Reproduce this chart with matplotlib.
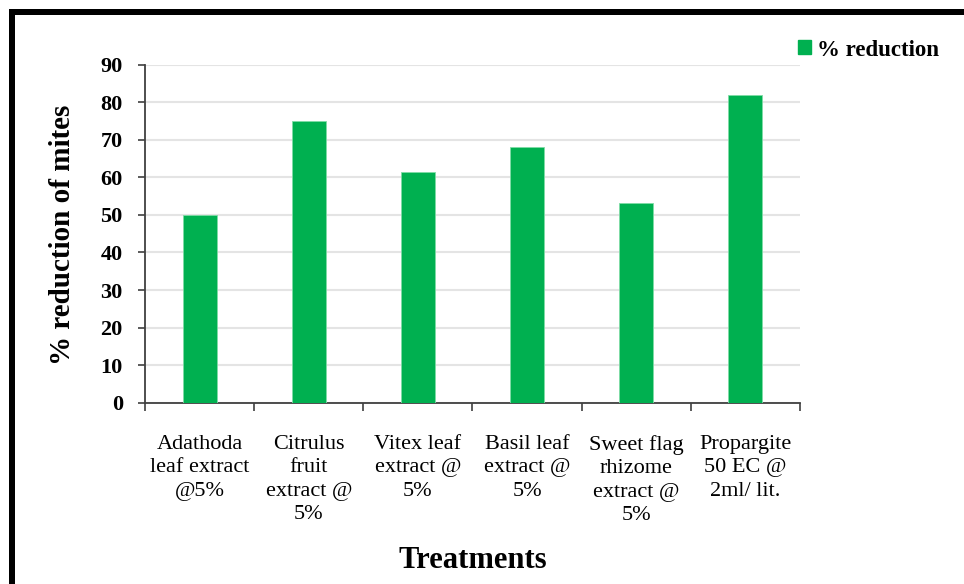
import matplotlib
matplotlib.use("Agg")
import matplotlib.pyplot as plt
from matplotlib.lines import Line2D
from matplotlib.patches import Patch
import numpy as np

treatments = [
    "Adathoda\nleaf extract\n@5%",
    "Citrulus\nfruit\nextract @\n5%",
    "Vitex leaf\nextract @\n5%",
    "Basil leaf\nextract @\n5%",
    "Sweet flag\nrhizome\nextract @\n5%",
    "Propargite\n50 EC @\n2ml/ lit.",
]
reduction = [50.0, 74.9, 61.5, 68.0, 53.2, 81.9]
yticks = [0, 10, 20, 30, 40, 50, 60, 70, 80, 90]

serif = ["Liberation Serif", "DejaVu Serif"]
green = "#00B050"

W, H = 964, 584
fig = plt.figure(figsize=(W / 100, H / 100), dpi=100)
fig.patch.set_facecolor("white")

ax = fig.add_axes([145 / W, 1 - 402.7 / H, (800 - 145) / W, (402.7 - 64.7) / H])
x = np.arange(len(treatments))
ax.bar(x, reduction, width=0.31, color=green, edgecolor="#7fdca6", linewidth=0.6,
       zorder=3, label="% reduction")

ax.set_ylim(0, 90)
ax.set_xlim(-0.5, len(treatments) - 0.5)
ax.set_yticks(yticks)
ax.set_yticklabels([str(v) for v in yticks], fontfamily=serif, fontweight="bold",
                   fontsize=16)
ax.yaxis.grid(True, color="#e4e4e4", linewidth=1.5, zorder=0)
ax.set_axisbelow(True)

ax.set_xticks(x)
ax.set_xticklabels(treatments, fontfamily=serif, fontsize=16, linespacing=1.32,
                   va="top")
ax.set_xticks(np.arange(-0.5, len(treatments)), minor=True)
ax.tick_params(axis="x", which="major", length=0, pad=23)
ax.tick_params(axis="x", which="minor", length=6, width=1.2, color="#404040",
               direction="out")
ax.tick_params(axis="y", length=5, width=1.2, color="#404040", pad=11)

for s in ("top", "right"):
    ax.spines[s].set_visible(False)
for s in ("left", "bottom"):
    ax.spines[s].set_color("#404040")
    ax.spines[s].set_linewidth(1.3)

# Axis titles placed in figure pixels
fig.text(63 / W, 1 - 235 / H, "% reduction of mites", rotation=90, ha="center",
         va="center", fontfamily=serif, fontweight="bold", fontsize=21)
fig.text(472.5 / W, 1 - 561 / H, "Treatments", ha="center", va="center",
         fontfamily=serif, fontweight="bold", fontsize=22)

fig.legend(handles=[Patch(facecolor=green, edgecolor=green)],
           labels=["% reduction"], loc="center left",
           bbox_to_anchor=(798 / W, 1 - 50 / H), frameon=False,
           prop={"family": serif, "weight": "bold", "size": 16.5},
           handlelength=0.55, handleheight=0.55, handletextpad=0.3,
           borderaxespad=0, borderpad=0)

# Thick black frame along the top and left edges
lw_pt = 6 * 72 / 100
fig.add_artist(Line2D([12 / W, 12 / W], [-0.05, 1 - 12 / H], transform=fig.transFigure,
                      color="black", linewidth=lw_pt, solid_capstyle="projecting"))
fig.add_artist(Line2D([12 / W, 1.05], [1 - 12 / H, 1 - 12 / H], transform=fig.transFigure,
                      color="black", linewidth=lw_pt, solid_capstyle="projecting"))

fig.savefig("out.png", dpi=100, facecolor="white")
